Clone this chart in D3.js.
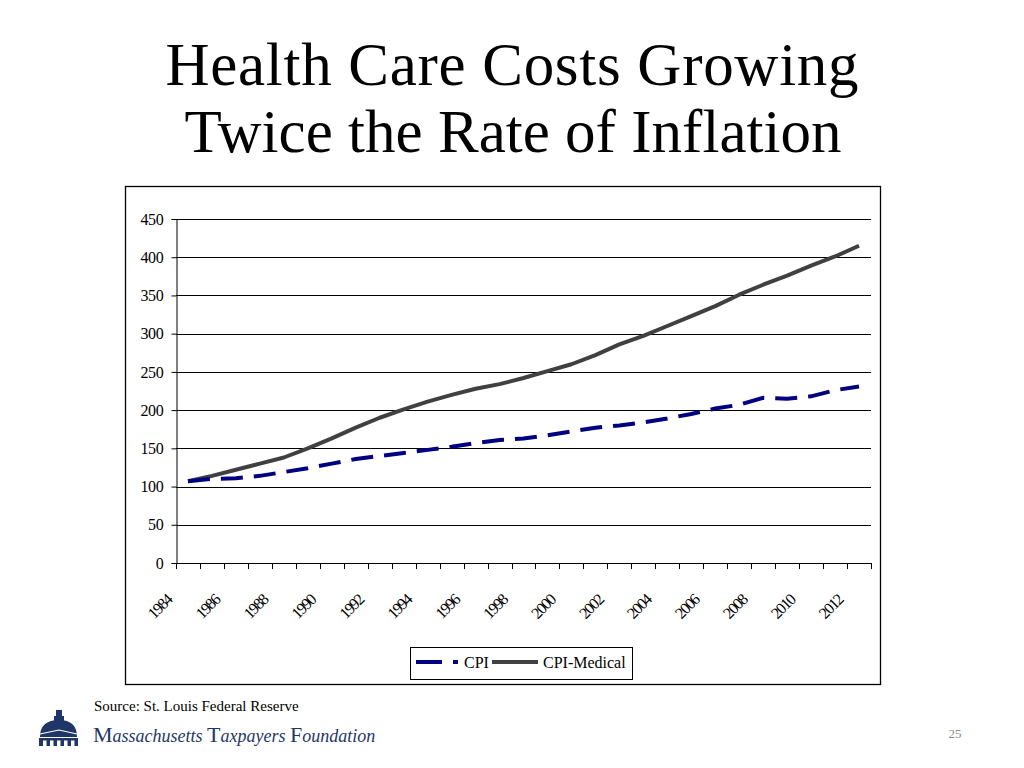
<!DOCTYPE html>
<html><head><meta charset="utf-8">
<script src="https://cdn.jsdelivr.net/npm/d3@7"></script>
<style>body{margin:0;background:#fff;} svg{display:block;}</style>
</head><body>
<svg id="c" width="1024" height="768"></svg>
<script>
const years = d3.range(1984, 2013).map(String);
const cpi = [107,110,111,114,119,124,130,136,140,144,148,152,157,161,163,167,172,177,180,184,189,195,202,207,216,215,218,226,231];
const cpiMedical = [107,114,122,130,138,150,163,177,190,201,211,220,228,234,242,251,260,272,286,297,310,323,336,351,364,376,389,401,415];
const yTicks = [0,50,100,150,200,250,300,350,400,450];
const xLabels = years.filter((d,i)=>i%2===0);
const seriesNames = ["CPI","CPI-Medical"];

const svg = d3.select("#c");
const serif = "'Liberation Serif','Times New Roman',serif";

// Title
svg.append("text").attr("x",512).attr("y",85).attr("text-anchor","middle")
  .attr("font-family",serif).attr("font-size",61).attr("fill","#000")
  .attr("textLength",693).attr("lengthAdjust","spacing").text("Health Care Costs Growing");
svg.append("text").attr("x",513).attr("y",152).attr("text-anchor","middle")
  .attr("font-family",serif).attr("font-size",61).attr("fill","#000")
  .attr("textLength",657).attr("lengthAdjust","spacing").text("Twice the Rate of Inflation");

// chart frame
svg.append("rect").attr("x",125.5).attr("y",186.5).attr("width",755).attr("height",498)
  .attr("fill","#fff").attr("stroke","#000").attr("stroke-width",1.3);

const L=176, R=871, T=219, B=563;
const x = d3.scaleBand().domain(years).range([L,R]);
const y = d3.scaleLinear().domain([0,450]).range([B,T]);

// gridlines
svg.append("g").selectAll("line").data(yTicks.filter(d=>d>0)).join("line")
  .attr("x1",L).attr("x2",R).attr("y1",d=>Math.round(y(d))+0.5).attr("y2",d=>Math.round(y(d))+0.5)
  .attr("stroke","#000").attr("stroke-width",1);

// y axis
const yAxis = d3.axisLeft(y).tickValues(yTicks).tickSize(5).tickPadding(8).tickFormat(d3.format("d"));
const gy = svg.append("g").attr("transform",`translate(${L+0.5},0)`).call(yAxis);
gy.selectAll("text").attr("font-family",serif).attr("font-size",16).attr("fill","#000").attr("letter-spacing",-0.3);
gy.select(".domain").attr("stroke","#000");
gy.selectAll(".tick line").attr("stroke","#000");

// x axis: ticks at category boundaries
const gx = svg.append("g");
gx.append("line").attr("x1",L).attr("x2",R).attr("y1",B+0.5).attr("y2",B+0.5).attr("stroke","#000");
const bounds = years.map(d=>x(d)).concat([x(years[years.length-1])+x.bandwidth()]);
gx.selectAll("line.t").data(bounds).join("line").attr("class","t")
  .attr("x1",d=>Math.round(d)+0.5).attr("x2",d=>Math.round(d)+0.5).attr("y1",B).attr("y2",B+6).attr("stroke","#000");
gx.selectAll("text").data(xLabels).join("text")
  .attr("transform",d=>`translate(${x(d)+x.bandwidth()/2-15},${601}) rotate(-45)`)
  .attr("text-anchor","end").attr("font-family",serif).attr("font-size",16).attr("fill","#000")
  .attr("letter-spacing",-1.4).text(d=>d);

// lines
const line = d3.line().x((d,i)=>x(years[i])+x.bandwidth()/2).y(d=>y(d));
svg.append("path").datum(cpiMedical).attr("d",line).attr("fill","none")
  .attr("stroke","#404040").attr("stroke-width",4).attr("stroke-linejoin","round");
svg.append("path").datum(cpi).attr("d",line).attr("fill","none")
  .attr("stroke","#000080").attr("stroke-width",4).attr("stroke-dasharray","22,11");

// legend
const lg = svg.append("g");
lg.append("rect").attr("x",410.5).attr("y",647.5).attr("width",222).attr("height",32).attr("fill","#fff").attr("stroke","#000");
lg.append("line").attr("x1",416).attr("x2",442).attr("y1",662).attr("y2",662).attr("stroke","#000080").attr("stroke-width",4);
lg.append("line").attr("x1",453).attr("x2",458).attr("y1",662).attr("y2",662).attr("stroke","#000080").attr("stroke-width",4);
lg.append("text").attr("x",464).attr("y",668).attr("font-family",serif).attr("font-size",16).text(seriesNames[0]);
lg.append("line").attr("x1",492).attr("x2",538).attr("y1",662).attr("y2",662).attr("stroke","#404040").attr("stroke-width",4);
lg.append("text").attr("x",543).attr("y",668).attr("font-family",serif).attr("font-size",16).text(seriesNames[1]);

// source
svg.append("text").attr("x",94).attr("y",711).attr("font-family",serif).attr("font-size",15).attr("fill","#000")
  .text("Source: St. Louis Federal Reserve");

// logo dome
const navy = "#1f3766";
const lo = svg.append("g").attr("fill",navy);
lo.append("rect").attr("x",56).attr("y",710).attr("width",6).attr("height",6);
lo.append("path").attr("d","M54,716 L64,716 L64,721 L54,721 Z");
lo.append("path").attr("d","M40,737 Q40,720 59,720 Q77,720 77,737 Z");
lo.append("path").attr("d","M40,734 L59,730 L77,734").attr("fill","none").attr("stroke","#fff").attr("stroke-width",1.2);
lo.append("path").attr("d","M39,738 L78,738 L78,746 L39,746 Z");
[43,50,57,64,71].forEach(cx=>lo.append("rect").attr("x",cx).attr("y",740.5).attr("width",3.5).attr("height",5.5).attr("fill","#fff"));

const mt = svg.append("text").attr("x",93).attr("y",742).attr("font-family",serif).attr("fill",navy);
mt.append("tspan").attr("font-size",22).text("M");
mt.append("tspan").attr("font-size",18).attr("font-style","italic").text("assachusetts ");
mt.append("tspan").attr("font-size",22).text("T");
mt.append("tspan").attr("font-size",18).attr("font-style","italic").text("axpayers ");
mt.append("tspan").attr("font-size",22).text("F");
mt.append("tspan").attr("font-size",18).attr("font-style","italic").text("oundation");

// page number
svg.append("text").attr("x",955).attr("y",738).attr("text-anchor","middle").attr("font-family",serif)
  .attr("font-size",13).attr("fill","#8c8c8c").text("25");
</script>
</body></html>
